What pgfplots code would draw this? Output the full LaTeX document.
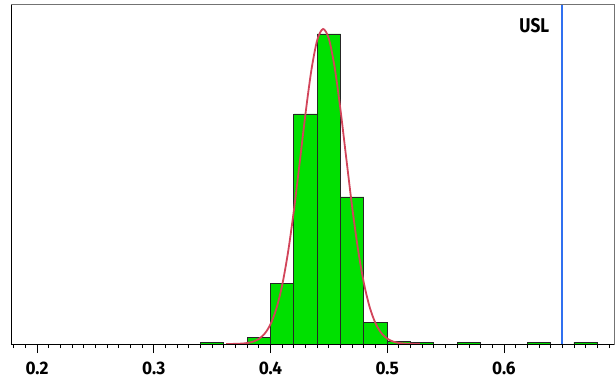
\documentclass[border=0pt]{standalone}
\usepackage{fontspec}
\setmainfont{Fira Sans}[FakeStretch=0.86]
\newfontfamily\tickfont{Fira Sans}[Scale=1.82, FakeStretch=0.95]
\usepackage{pgfplots}
\pgfplotsset{compat=1.18}
\definecolor{barfill}{RGB}{0,224,0}
\definecolor{curvecol}{RGB}{210,68,90}
\definecolor{uslcol}{RGB}{48,112,240}
\begin{document}
\begin{tikzpicture}
\begin{axis}[
  scale only axis,
  width=603bp, height=339bp,
  xmin=0.1777, xmax=0.6943,
  ymin=0, ymax=339,
  ytick=\empty,
  xtick={0.2,0.3,0.4,0.5,0.6},
  /pgf/number format/assume math mode=true,
  /pgf/number format/fixed,
  /pgf/number format/fixed zerofill,
  /pgf/number format/precision=1,
  xticklabel style={font=\tickfont\bfseries, yshift=-5bp},
  minor xtick={0.18,0.19,0.21,0.22,0.23,0.24,0.25,0.26,0.27,0.28,0.29,0.31,0.32,0.33,0.34,0.35,0.36,0.37,0.38,0.39,0.41,0.42,0.43,0.44,0.45,0.46,0.47,0.48,0.49,0.51,0.52,0.53,0.54,0.55,0.56,0.57,0.58,0.59,0.61,0.62,0.63,0.64,0.65,0.66,0.67,0.68,0.69},
  xtick pos=bottom,
  tick align=outside,
  major tick length=9bp,
  minor tick length=4bp,
  tick style={black, line width=0.8bp},
  axis line style={draw=black!55, line width=1bp},
  clip=false,
]
\addplot[ybar, bar width=0.02, bar shift=0, fill=barfill, draw=black!85, line width=0.9bp]
  coordinates {(0.35,2)(0.39,7)(0.41,61)(0.43,230)(0.45,310)(0.47,147)(0.49,22)(0.51,3)(0.53,2)(0.57,2)(0.63,2)(0.67,2)};
\addplot[curvecol, line width=1.8bp, smooth]
  coordinates {(0.362,0.03)(0.365,0.05)(0.370,0.15)(0.375,0.39)(0.380,0.99)(0.385,2.31)(0.390,5.05)(0.395,10.3)(0.400,19.7)(0.405,35.2)(0.410,58.7)(0.415,91.4)(0.420,133.1)(0.425,181.1)(0.430,230.3)(0.435,273.5)(0.440,303.7)(0.445,315.0)(0.450,305.3)(0.455,276.5)(0.460,234.0)(0.465,185.1)(0.470,136.8)(0.475,94.5)(0.480,61.0)(0.485,36.8)(0.490,20.7)(0.495,10.9)(0.500,5.36)(0.505,2.47)(0.510,1.06)(0.515,0.43)(0.520,0.16)(0.525,0.06)(0.528,0.03)};
\addplot[uslcol, line width=1.6bp] coordinates {(0.65,0)(0.65,339)};
\node[anchor=north east, font=\fontsize{20}{24}\selectfont\bfseries, inner sep=0pt] at ([xshift=-13bp,yshift=-13bp]axis cs:0.65,339) {USL};
\draw[black, line width=1bp] (rel axis cs:0,1) -- (rel axis cs:0,0) -- (rel axis cs:1,0);
\end{axis}
\path ([xshift=-11bp,yshift=-41bp]current axis.south west) rectangle ([xshift=2bp,yshift=5bp]current axis.north east);
\end{tikzpicture}
\end{document}
